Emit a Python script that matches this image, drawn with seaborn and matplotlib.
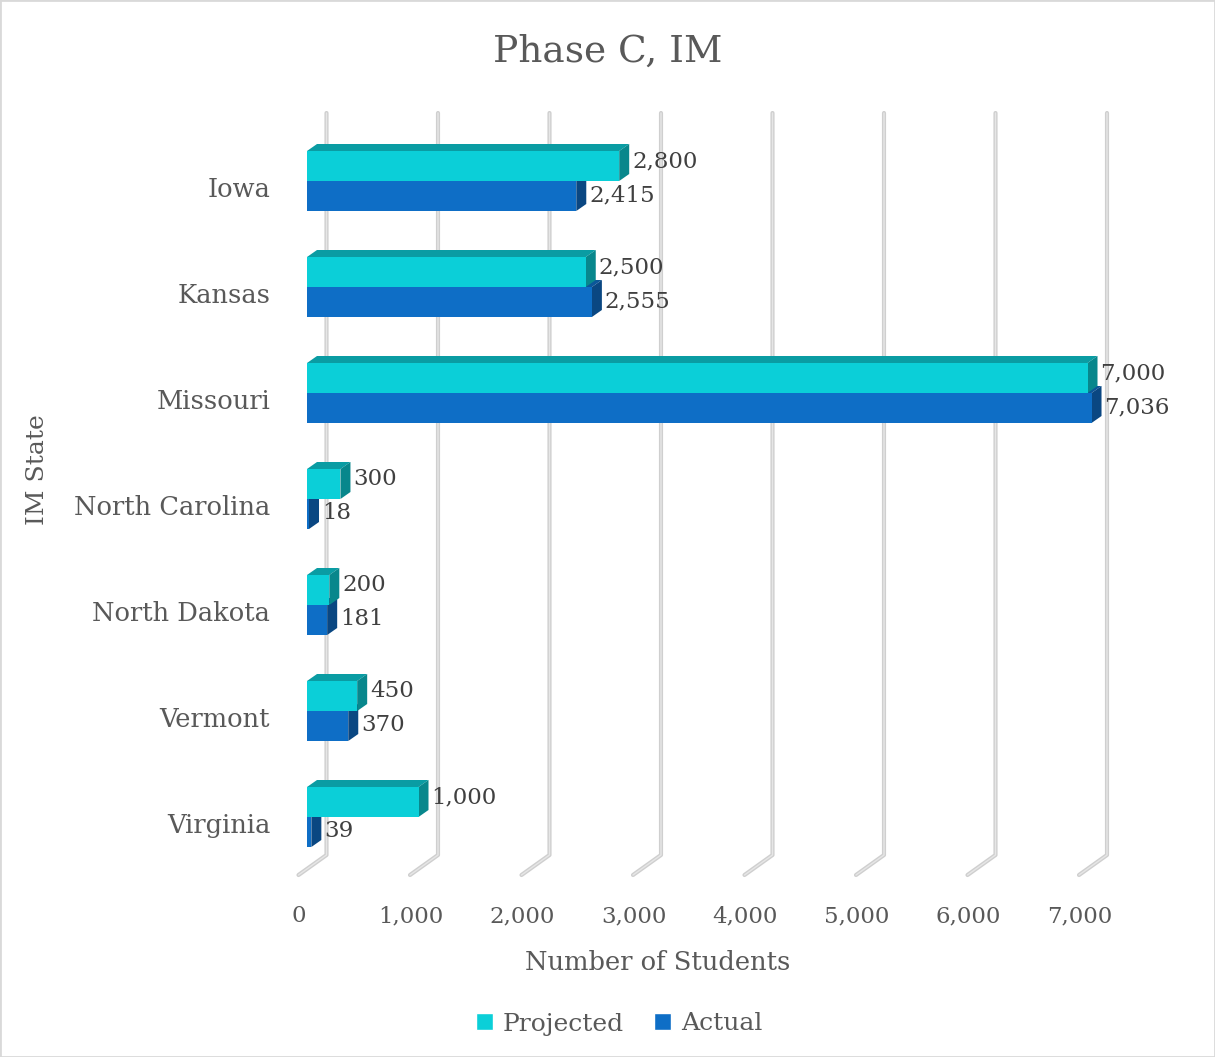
import matplotlib
matplotlib.use("Agg")
import matplotlib.pyplot as plt
import matplotlib.transforms as mtransforms
from matplotlib.patches import Polygon, Rectangle, Patch
from matplotlib.lines import Line2D
import seaborn as sns
import pandas as pd

# ---- data ----
states = ["Iowa", "Kansas", "Missouri", "North Carolina", "North Dakota", "Vermont", "Virginia"]
projected = [2800, 2500, 7000, 300, 200, 450, 1000]
actual = [2415, 2555, 7036, 18, 181, 370, 39]
series_names = ["Projected", "Actual"]
x_ticks = [0, 1000, 2000, 3000, 4000, 5000, 6000, 7000]

df = pd.DataFrame({
    "State": states + states,
    "Students": projected + actual,
    "Series": [series_names[0]] * len(states) + [series_names[1]] * len(states),
})

# ---- style ----
W, H, DPI = 1215, 1057, 100
TEXT = "#595959"
CYAN, CYAN_TOP, CYAN_SIDE = "#0BCFD8", "#0A9CA3", "#08878C"
BLUE, BLUE_TOP, BLUE_SIDE = "#0E6EC6", "#0B5699", "#0A4782"
GRID_DARK, GRID_LIGHT = "#cfcfcf", "#e6e6e6"

# depth of the 3-D extrusion (pixels)
BAR_DX, BAR_DY = 10, 7        # bar thickness
WALL_DX = 19.5                # back wall behind the bar fronts
FLOOR_DX, FLOOR_DY = 28, 20   # floor depth from back wall to front edge
GRID_RISE = 15                # wall lines above/below plot box

sns.set_theme(style="white")
plt.rcParams["font.family"] = ["DejaVu Serif"]

fig = plt.figure(figsize=(W / DPI, H / DPI), dpi=DPI)
fig.patch.set_facecolor("white")
ax = fig.add_axes([307 / W, (H - 870) / H, 802.8 / W, 742 / H])

sns.barplot(
    data=df, x="Students", y="State", hue="Series", orient="h",
    palette={"Projected": CYAN, "Actual": BLUE}, hue_order=series_names,
    width=0.566, saturation=1, errorbar=None, linewidth=0,
    legend=False, ax=ax,
)

ax.set_xlim(0, 7200)
ax.set_ylim(len(states) - 0.5, -0.5)
for s in ax.spines.values():
    s.set_visible(False)
ax.grid(False)
ax.set_facecolor("none")

to_px = ax.transData.transform
ident = mtransforms.IdentityTransform()

# ---- back wall grid lines with floor ticks ----
y_top = ax.bbox.y1 + GRID_RISE
y_bot = ax.bbox.y0 + GRID_RISE
for v in x_ticks:
    bx = to_px((v, 0))[0] + WALL_DX
    xs = [bx, bx, bx - FLOOR_DX]
    ys = [y_top, y_bot, y_bot - FLOOR_DY]
    for lw, c in ((3.0, GRID_DARK), (1.0, GRID_LIGHT)):
        ln = Line2D(xs, ys, transform=ident, color=c, lw=lw,
                    solid_capstyle="round", solid_joinstyle="round",
                    clip_on=False, zorder=0.5)
        ax.add_artist(ln)

# ---- 3-D faces of the bars ----
faces = {
    "Projected": (ax.containers[0], CYAN_TOP, CYAN_SIDE, 3),
    "Actual": (ax.containers[1], BLUE_TOP, BLUE_SIDE, 2),
}
label_dy = {"Projected": 5, "Actual": 1}
for name, (cont, top_c, side_c, z) in faces.items():
    for bar, val in zip(cont, (projected if name == "Projected" else actual)):
        x0, y0 = bar.get_x(), bar.get_y()
        w, h = bar.get_width(), bar.get_height()
        (ax_, ay_), (bx_, by_) = to_px([(x0, y0), (x0 + w, y0 + h)])
        L, R = min(ax_, bx_), max(ax_, bx_)
        B, T = min(ay_, by_), max(ay_, by_)
        top = Polygon([(L, T), (R, T), (R + BAR_DX, T + BAR_DY), (L + BAR_DX, T + BAR_DY)],
                      closed=True, transform=ident, facecolor=top_c,
                      edgecolor="none", clip_on=False, zorder=z)
        side = Polygon([(R, B), (R, T), (R + BAR_DX, T + BAR_DY), (R + BAR_DX, B + BAR_DY)],
                       closed=True, transform=ident, facecolor=side_c,
                       edgecolor="none", clip_on=False, zorder=z)
        ax.add_artist(top)
        ax.add_artist(side)
        bar.set_zorder(z + 0.5)
        ax.annotate(f"{val:,}", xy=(x0 + w, y0 + h / 2), xytext=(13, label_dy[name]),
                    textcoords="offset pixels", ha="left", va="center",
                    fontsize=16.5, color="#404040", zorder=5, annotation_clip=False)

# ---- axes text ----
ax.set_xticks(x_ticks, labels=[f"{v:,}" for v in x_ticks])
ax.tick_params(axis="x", length=0, pad=25.5, labelsize=16.5, labelcolor=TEXT)
ax.tick_params(axis="y", length=0, pad=26.5, labelsize=18.5, labelcolor=TEXT)
shift_x = mtransforms.ScaledTranslation(-8 / DPI, 0, fig.dpi_scale_trans)
for lbl in ax.get_xticklabels():
    lbl.set_transform(lbl.get_transform() + shift_x)
shift_y = mtransforms.ScaledTranslation(0, -6 / DPI, fig.dpi_scale_trans)
for lbl in ax.get_yticklabels():
    lbl.set_transform(lbl.get_transform() + shift_y)

ax.set_xlabel("Number of Students", fontsize=18.5, color=TEXT, va="center")
ax.xaxis.set_label_coords((658 - 307) / 802.8, -(962 - 870) / 742)
ax.set_ylabel("IM State", fontsize=18, color=TEXT, va="center", ha="center")
ax.yaxis.set_label_coords(-(307 - 38) / 802.8, (870 - 470) / 742)

fig.suptitle("Phase C, IM", x=0.5, y=1 - 62 / H, va="baseline",
             fontsize=27, color=TEXT)

handles = [Patch(facecolor=CYAN, label="Projected"), Patch(facecolor=BLUE, label="Actual")]
fig.legend(handles=handles, loc="center", bbox_to_anchor=(619 / W, 1 - 1024 / H),
           ncol=2, frameon=False, fontsize=18, handlelength=0.68, handleheight=0.68,
           handletextpad=0.4, columnspacing=1.2, labelcolor=TEXT)

fig.add_artist(Rectangle((0, 0), 1, 1, transform=fig.transFigure, fill=False,
                         edgecolor="#d9d9d9", lw=2))

fig.savefig("out.png", dpi=DPI)
